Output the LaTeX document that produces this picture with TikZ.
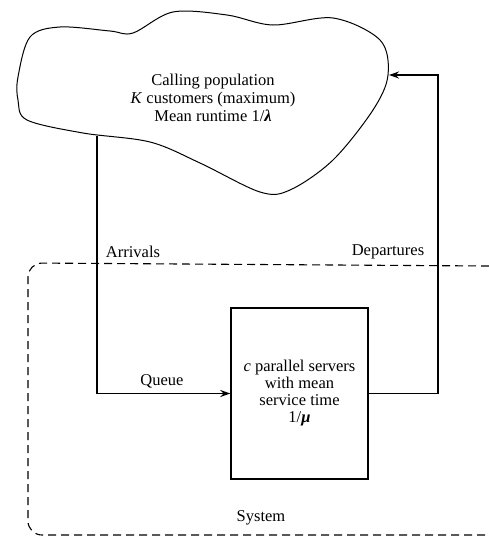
\documentclass[tikz,border=0pt]{standalone}
\usepackage{fontspec}
\setmainfont{Liberation Serif}
\usetikzlibrary{arrows.meta, positioning}

\begin{document}
\begin{tikzpicture}[
  x=1pt, y=-1pt,
  txt/.style={
    align=center, font=\fontsize{16.5}{18}\selectfont, inner sep=0pt
  },
  srv/.style={
    rectangle, draw, line width=1.4pt,
    minimum width=137pt, minimum height=171pt,
    align=center, font=\fontsize{16.5}{17}\selectfont
  },
  flow/.style={-{Stealth[length=10pt, width=7pt]}, line width=1.6pt},
  sys/.style={dashed, dash pattern=on 8pt off 5pt, line width=1.1pt}
]
\useasboundingbox (0,0) rectangle (489,538);

% calling population
\draw[line width=1pt] plot[smooth cycle, tension=0.55] coordinates {
  (18,77) (30,37) (60,27) (110,31) (133,33) (173,12) (227,15) (273,25)
  (333,18) (380,40) (388,75) (373,110) (333,160) (290,190) (260,192)
  (200,163) (150,142) (83,133) (27,120) (18,100)};
\node[txt] (pop) at (213,98) {Calling population\\
  \textit{K} customers (maximum)\\ Mean runtime 1/\textit{\textbf{λ}}};
\coordinate (out) at (97,136);
\coordinate (in) at (389,75);
\coordinate (ret) at (438,75);

% servers
\node[srv] (srv) at (299.5,393.5) {\textit{c} parallel servers\\
  with mean\\ service time\\ 1/\textit{\textbf{μ}}};

% system boundary
\draw[sys, rounded corners=14pt] (489,266) -- (28,263) -- (28,535) -- (489,535);

\draw[flow] (out) |- (srv.west);
\draw[flow] (srv.east) -| (ret) -- (in);

\node[txt] (arr) at (133,252) {Arrivals};
\node[txt] (dep) at (388,252) {Departures};
\node[txt] (que) at (162,381) {Queue};
\node[txt] (syst) at (261,518) {System};

\end{tikzpicture}
\end{document}
